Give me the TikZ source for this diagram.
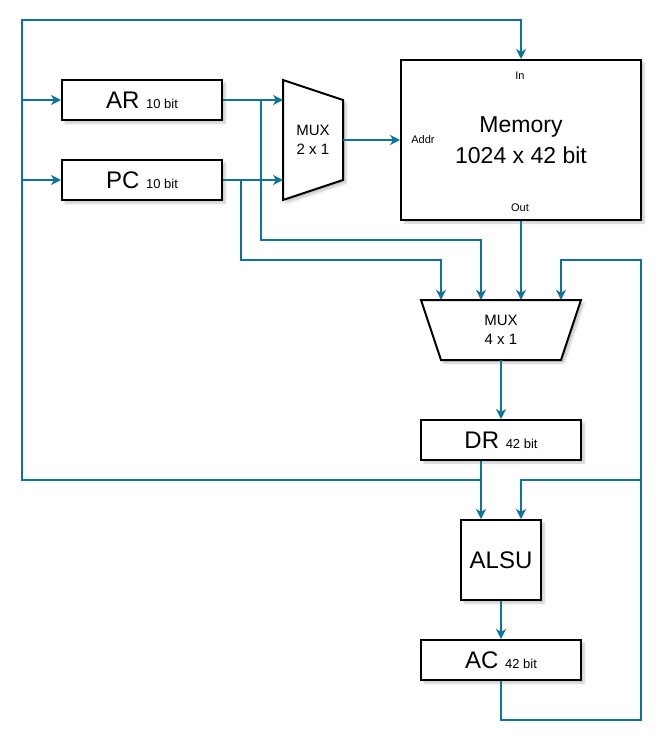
\documentclass[tikz,border=0pt]{standalone}
\usepackage{fontspec}
\setmainfont{Liberation Sans}
\usetikzlibrary{arrows.meta,shadows.blur,calc}
\definecolor{wirec}{HTML}{10739E}
\tikzset{
  shd/.style={blur shadow={shadow xshift=3pt,shadow yshift=-3pt,shadow blur steps=6,shadow opacity=22}},
  blk/.style={draw=black, line width=2pt, fill=white, minimum width=160pt, minimum height=40pt, inner sep=0pt, shd},
  muxshape/.style={draw=black, line width=2pt, fill=white, line join=miter, shd},
  wire/.style={draw=wirec, line width=2pt},
  arr/.style={wire, -{Stealth[length=10pt,width=10pt,inset=3pt]}},
  bigt/.style={font=\fontsize{24}{28}\selectfont},
  memt/.style={font=\fontsize{23}{27}\selectfont},
  muxt/.style={font=\fontsize{15}{19}\selectfont, align=center, inner sep=0pt},
  portt/.style={font=\fontsize{11}{13}\selectfont, inner sep=0pt},
}
\newcommand\bitlbl[1]{{\fontsize{13}{15}\selectfont #1}}
\begin{document}
\begin{tikzpicture}[x=1pt,y=-1pt]
\useasboundingbox (0,0) rectangle (668,748);
% boxes
\node[blk, bigt] (ar) at (142,100) {AR \bitlbl{10 bit}};
\node[blk, bigt] (pc) at (142,180) {PC \bitlbl{10 bit}};
\node[blk, memt, minimum width=240pt, minimum height=160pt, align=center] (mem) at (521,140) {Memory\\[4pt]1024 x 42 bit};
\node[portt] (inlbl) at (520,76) {In};
\node[portt] (addrlbl) at (423,140) {Addr};
\node[portt] (outlbl) at (520,208) {Out};
% MUX 2x1
\draw[muxshape] (283,80) -- (343,100) -- (343,180) -- (283,200) -- cycle;
\node[muxt, minimum width=60pt, minimum height=120pt] (mux2) at (313,140) {MUX\\2 x 1};
% MUX 4x1
\draw[muxshape] (421,300) -- (581,300) -- (561,360) -- (441,360) -- cycle;
\node[muxt, minimum width=160pt, minimum height=60pt] (mux4) at (501,330) {MUX\\4 x 1};
\node[blk, bigt] (dr) at (501,440) {DR \bitlbl{42 bit}};
\node[blk, bigt, minimum width=80pt, minimum height=80pt] (alsu) at (501,560) {ALSU};
\node[blk, bigt] (ac) at (501,660) {AC \bitlbl{42 bit}};
% junction coordinates
\coordinate (drout) at ($(dr.south)+(-20,0)$);
\coordinate (fbj) at (481,480);
\coordinate (arj) at (261,100);
\coordinate (pcj) at (241,180);
\coordinate (acr) at (641,480);
% wires
\draw[arr] (drout) -- ($(alsu.north)+(-20,0)$);
\draw[arr] (fbj) -- (22,480) -- (22,20) -- (521,20) -- (mem.north);
\draw[arr] (22,100) -- (ar.west);
\draw[arr] (22,180) -- (pc.west);
\draw[arr] (ar.east) -- (283,100);
\draw[arr] (pc.east) -- (283,180);
\draw[arr] (arj) -- (261,240) -- (481,240) -- ($(mux4.north)+(-20,0)$);
\draw[arr] (pcj) -- (241,260) -- (441,260) -- ($(mux4.north)+(-60,0)$);
\draw[arr] (mux2.east) -- (mem.west);
\draw[arr] (mem.south) -- ($(mux4.north)+(20,0)$);
\draw[arr] (ac.south) -- (501,720) -- (641,720) -- (641,260) -- (561,260) -- ($(mux4.north)+(60,0)$);
\draw[arr] (acr) -- (521,480) -- ($(alsu.north)+(20,0)$);
\draw[arr] (mux4.south) -- (dr.north);
\draw[arr] (alsu.south) -- (ac.north);
\end{tikzpicture}
\end{document}
